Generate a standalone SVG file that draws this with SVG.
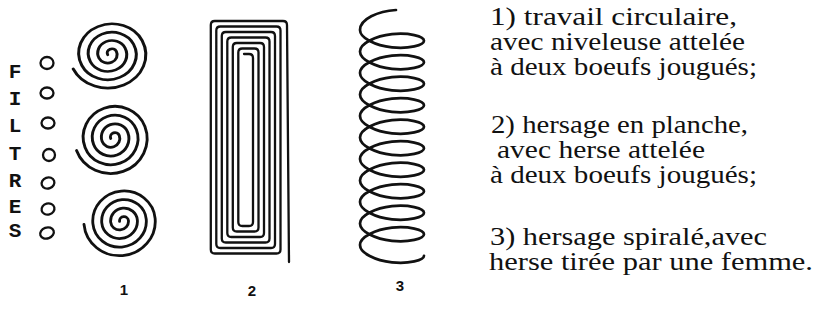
<svg xmlns="http://www.w3.org/2000/svg" width="816" height="322" viewBox="0 0 816 322">
<style>
.ln{fill:none;stroke:#111;stroke-linecap:round;stroke-linejoin:round}
.sp{stroke-width:2.7}
.rs{stroke-width:2.3}
.co{stroke-width:2.7}
.o{fill:none;stroke:#111;stroke-width:2.3}
.fl{font-family:"Liberation Mono","Courier New",monospace;font-size:21px;font-weight:bold;fill:#111;text-anchor:middle}
.num{font-family:"Liberation Sans",Arial,sans-serif;font-size:15px;font-weight:bold;fill:#111;text-anchor:middle}
.tx{font-family:"Liberation Serif","Times New Roman",serif;font-size:25px;fill:#111}
</style>
<defs>
<path id="spiral" d="M4.25,0 A4.25,4.25 0 0 1 -4.25,0 A8.5,8.5 0 0 1 12.75,0 A12.75,12.75 0 0 1 -12.75,0 A17,17 0 0 1 21.25,0 A21.25,21.25 0 0 1 -21.25,0 A25.5,25.5 0 0 1 29.75,0 A29.75,29.75 0 0 1 -29.75,0 A34,34 0 0 1 38.25,0"/>
</defs>
<rect width="816" height="322" fill="#fff"/>

<g id="filtres">
<text class="fl" x="15" y="78">F</text>
<text class="fl" x="15" y="105">I</text>
<text class="fl" x="15" y="132">L</text>
<text class="fl" x="15" y="160">T</text>
<text class="fl" x="15" y="187">R</text>
<text class="fl" x="15" y="213">E</text>
<text class="fl" x="15" y="237">S</text>
</g>

<g id="filter-holes">
<ellipse class="o" cx="47" cy="63" rx="6.5" ry="6"/>
<ellipse class="o" cx="47" cy="93" rx="6.5" ry="5.5"/>
<ellipse class="o" cx="48" cy="123" rx="6.5" ry="5.5"/>
<ellipse class="o" cx="49" cy="155" rx="6" ry="6"/>
<ellipse class="o" cx="48" cy="183" rx="6.5" ry="5.5" transform="rotate(-20 48 183)"/>
<ellipse class="o" cx="48" cy="209" rx="6.5" ry="5.5" transform="rotate(-15 48 209)"/>
<ellipse class="o" cx="47" cy="233" rx="7" ry="5.5" transform="rotate(-20 47 233)"/>
</g>

<g id="fig1">
<use href="#spiral" class="ln sp" transform="translate(112,53) scale(1.12,0.98) rotate(155)"/>
<use href="#spiral" class="ln sp" transform="translate(115,137) scale(1.07,1.03) rotate(160)"/>
<use href="#spiral" class="ln sp" transform="translate(124,221) scale(1.05,1.01) rotate(175)"/>
<text class="num" x="124" y="295">1</text>
</g>

<g id="fig2">
<path class="ln rs" d="M244,54 L249,54 Q253,54 253,58 L253,222 Q253,226 249,226 L242.3,226 Q238.3,226 238.3,222 L238.3,52.5 Q238.3,48.5 242.3,48.5
L254.5,48.5 Q258.5,48.5 258.5,52.5 L258.5,227.5 Q258.5,231.5 254.5,231.5 L236.8,231.5 Q232.8,231.5 232.8,227.5 L232.8,47 Q232.8,43 236.8,43
L260,43 Q264,43 264,47 L264,233 Q264,237 260,237 L231.3,237 Q227.3,237 227.3,233 L227.3,41.5 Q227.3,37.5 231.3,37.5
L265.5,37.5 Q269.5,37.5 269.5,41.5 L269.5,238.5 Q269.5,242.5 265.5,242.5 L225.8,242.5 Q221.8,242.5 221.8,238.5 L221.8,36 Q221.8,32 225.8,32
L271,32 Q275,32 275,36 L275,244 Q275,248 271,248 L220.3,248 Q216.3,248 216.3,244 L216.3,30.5 Q216.3,26.5 220.3,26.5
L276.5,26.5 Q280.5,26.5 280.5,30.5 L280.5,249.5 Q280.5,253.5 276.5,253.5 L214.8,253.5 Q210.8,253.5 210.8,249.5 L210.8,25 Q210.8,21 214.8,21
L283,21 Q287,21 287,25 L289,262"/>
<text class="num" x="252" y="296">2</text>
</g>

<g id="fig3">
<path class="ln co" d="M396,10 c-18,1 -36,9 -36,20
c0,8.075 15.245,15.583 32,17.375 c16.755,1.792 32,-2.134 32,-6.625 c0,-4.491 -15.245,-8.417 -32,-6.625 c-16.755,1.792 -32,9.3 -32,17.375
c0,8.075 15.245,15.583 32,17.375 c16.755,1.792 32,-2.134 32,-6.625 c0,-4.491 -15.245,-8.417 -32,-6.625 c-16.755,1.792 -32,9.3 -32,17.375
c0,8.075 15.245,15.583 32,17.375 c16.755,1.792 32,-2.134 32,-6.625 c0,-4.491 -15.245,-8.417 -32,-6.625 c-16.755,1.792 -32,9.3 -32,17.375
c0,8.075 15.245,15.583 32,17.375 c16.755,1.792 32,-2.134 32,-6.625 c0,-4.491 -15.245,-8.417 -32,-6.625 c-16.755,1.792 -32,9.3 -32,17.375
c0,8.075 15.245,15.583 32,17.375 c16.755,1.792 32,-2.134 32,-6.625 c0,-4.491 -15.245,-8.417 -32,-6.625 c-16.755,1.792 -32,9.3 -32,17.375
c0,8.075 15.245,15.583 32,17.375 c16.755,1.792 32,-2.134 32,-6.625 c0,-4.491 -15.245,-8.417 -32,-6.625 c-16.755,1.792 -32,9.3 -32,17.375
c0,8.075 15.245,15.583 32,17.375 c16.755,1.792 32,-2.134 32,-6.625 c0,-4.491 -15.245,-8.417 -32,-6.625 c-16.755,1.792 -32,9.3 -32,17.375
c0,8.075 15.245,15.583 32,17.375 c16.755,1.792 32,-2.134 32,-6.625 c0,-4.491 -15.245,-8.417 -32,-6.625 c-16.755,1.792 -32,9.3 -32,17.375
c0,8.075 15.245,15.583 32,17.375 c16.755,1.792 32,-2.134 32,-6.625 c0,-4.491 -15.245,-8.417 -32,-6.625 c-16.755,1.792 -32,9.3 -32,17.375
c0,8.075 15.245,15.583 32,17.375 c16.755,1.792 32,-2.134 32,-6.625 c0,-4.491 -15.245,-8.417 -32,-6.625 c-16.755,1.792 -32,9.3 -32,17.375
c0,8.075 15.245,15.583 32,17.375 c16.755,1.792 32,-2.134 32,-6.625"/>
<text class="num" x="400" y="291">3</text>
</g>

<g id="legend">
<text class="tx" x="490" y="25" textLength="247" lengthAdjust="spacingAndGlyphs">1) travail circulaire,</text>
<text class="tx" x="490" y="50" textLength="255" lengthAdjust="spacingAndGlyphs">avec niveleuse attelée</text>
<text class="tx" x="490" y="75" textLength="267" lengthAdjust="spacingAndGlyphs">à deux boeufs jougués;</text>
<text class="tx" x="491" y="133" textLength="257" lengthAdjust="spacingAndGlyphs">2) hersage en planche,</text>
<text class="tx" x="497" y="158" textLength="208" lengthAdjust="spacingAndGlyphs">avec herse attelée</text>
<text class="tx" x="490" y="183" textLength="267" lengthAdjust="spacingAndGlyphs">à deux boeufs jougués;</text>
<text class="tx" x="490" y="245" textLength="277" lengthAdjust="spacingAndGlyphs">3) hersage spiralé,avec</text>
<text class="tx" x="489" y="270" textLength="324" lengthAdjust="spacingAndGlyphs">herse tirée par une femme.</text>
</g>
</svg>
